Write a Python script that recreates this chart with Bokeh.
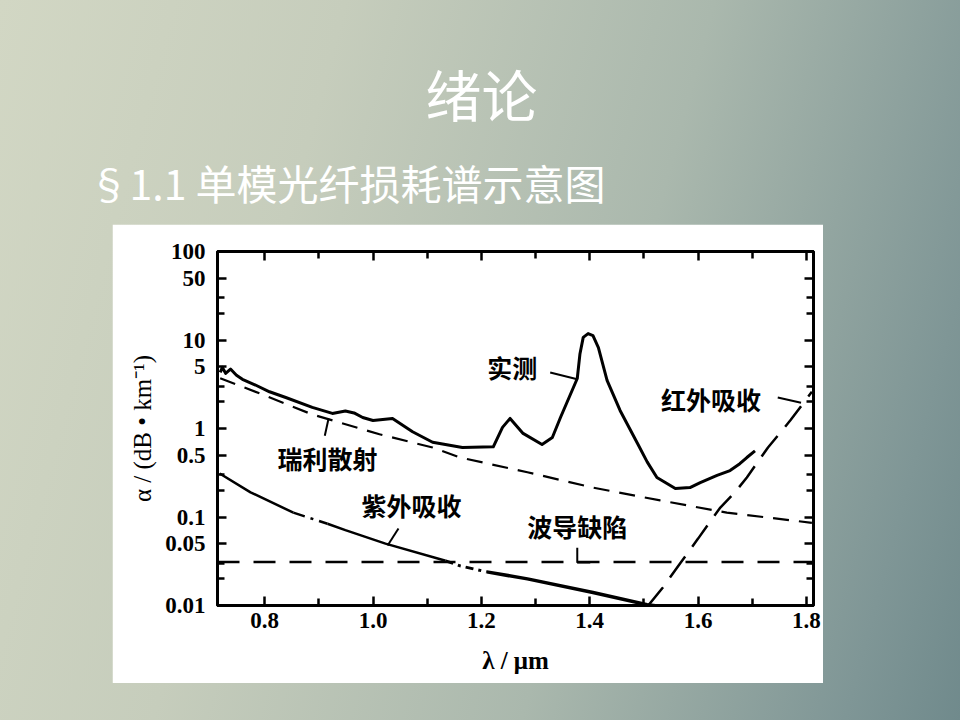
from bokeh.plotting import figure
from bokeh.models import Range1d, FixedTicker, CustomJSTickFormatter, LinearAxis, LogAxis, Spacer
from bokeh.layouts import column, row
from bokeh.core.properties import value
from bokeh.embed import file_html
from bokeh.resources import INLINE

# ---------------- data ----------------
wl_measured = [0.718, 0.722, 0.728, 0.737, 0.748, 0.759, 0.783, 0.809, 0.839, 0.888, 0.925,
               0.949, 0.965, 0.981, 1.0, 1.036, 1.073, 1.11, 1.165, 1.222, 1.239, 1.253,
               1.277, 1.312, 1.331, 1.346, 1.377, 1.382, 1.388, 1.397, 1.406, 1.416, 1.432,
               1.456, 1.488, 1.506, 1.524, 1.558, 1.585, 1.604, 1.635, 1.659, 1.677, 1.69, 1.705]
loss_measured = [4.3, 4.9, 4.2, 4.7, 4.0, 3.6, 3.1, 2.6, 2.24, 1.73, 1.48,
                 1.58, 1.5, 1.33, 1.23, 1.3, 0.92, 0.70, 0.61, 0.62, 1.03, 1.30,
                 0.88, 0.66, 0.79, 1.33, 3.67, 7.0, 10.7, 11.8, 11.2, 8.2, 3.5,
                 1.6, 0.68, 0.42, 0.28, 0.21, 0.215, 0.245, 0.295, 0.335, 0.40, 0.47, 0.56]

wl_rayleigh = [0.718, 0.796, 0.888, 1.012, 1.11, 1.161, 1.285, 1.406, 1.53, 1.653, 1.81]
loss_rayleigh = [3.7, 2.42, 1.44, 0.86, 0.61, 0.47, 0.32, 0.215, 0.154, 0.112, 0.086]

wl_waveguide = [0.713, 1.813]
loss_waveguide = [0.031, 0.031]

wl_uv = [0.717, 0.774, 0.853, 0.916, 0.949, 1.023, 1.134, 1.161, 1.21, 1.285, 1.406, 1.506, 1.56]
loss_uv = [0.31, 0.19, 0.112, 0.084, 0.071, 0.050, 0.032, 0.028, 0.024, 0.020, 0.014, 0.0102, 0.0093]

wl_ir = [1.505, 1.535, 1.567, 1.6, 1.641, 1.668, 1.69, 1.729, 1.77, 1.81]
loss_ir = [0.0095, 0.016, 0.030, 0.057, 0.128, 0.19, 0.28, 0.61, 1.23, 2.6]

x_major = [0.8, 1.0, 1.2, 1.4, 1.6, 1.8]
x_minor = [0.9, 1.1, 1.3, 1.5, 1.7]
y_major = [0.01, 0.05, 0.1, 0.5, 1, 5, 10, 50, 100]
y_minor = [0.02, 0.03, 0.2, 0.3, 2, 3, 20, 30]

labels = ["实测", "瑞利散射", "紫外吸收", "波导缺陷", "红外吸收"]
label_wl = [1.257, 0.916, 1.071, 1.377, 1.624]
label_loss = [5.0, 0.47, 0.135, 0.080, 2.18]
leader_wl = [[1.327, 1.377], [0.918, 0.911], [1.047, 1.027], [1.377, 1.377, 1.401], [1.747, 1.79]]
leader_loss = [[4.3, 3.6], [1.30, 0.83], [0.074, 0.0476], [0.045, 0.0306, 0.0306], [2.24, 1.95]]

title_text = "绪论"
subtitle_text = "§1.1 单模光纤损耗谱示意图"
x_label = "λ / μm"
y_label = "α / (dB • km⁻¹)"

# ---------------- header (slide title) ----------------
head = figure(width=960, height=224, x_range=Range1d(0, 960), y_range=Range1d(224, 0),
              toolbar_location=None, output_backend="svg", min_border=0,
              x_axis_location=None, y_axis_location=None,
              background_fill_alpha=0, border_fill_alpha=0, outline_line_color=None)
head.grid.visible = False
head.text(x=[481], y=[92], text=[title_text], text_color="white", text_align="center",
          text_baseline="middle", text_font=value("Noto Sans CJK SC"), text_font_size="56px")
head.text(x=[88], y=[181], text=[subtitle_text], text_color="white", text_align="left",
          text_baseline="middle", text_font=value("Noto Sans CJK SC"), text_font_size="41px")

# ---------------- chart ----------------
p = figure(width=711, height=459, y_axis_type="log",
           x_range=Range1d(0.713, 1.813), y_range=Range1d(0.01, 100),
           toolbar_location=None, output_backend="svg",
           min_border_left=105, min_border_right=10, min_border_top=27, min_border_bottom=78,
           background_fill_color="white", border_fill_color="white",
           outline_line_color="black", outline_line_width=3)
p.grid.visible = False

serif = "Liberation Serif"
xt = FixedTicker(ticks=x_major, minor_ticks=x_minor)
yt = FixedTicker(ticks=y_major, minor_ticks=y_minor)

def style_axis(ax, show_labels):
    ax.axis_line_color = "black"
    ax.axis_line_width = 3
    ax.major_tick_in = 9
    ax.major_tick_out = 0
    ax.minor_tick_in = 7
    ax.minor_tick_out = 0
    ax.major_tick_line_width = 2.5
    ax.minor_tick_line_width = 2.5
    ax.major_tick_line_color = "black"
    ax.minor_tick_line_color = "black"
    ax.major_label_text_font = serif
    ax.major_label_text_font_style = "bold"
    ax.major_label_text_font_size = "23px" if show_labels else "0px"
    ax.major_label_text_color = "black"

xa = p.xaxis[0]
xa.ticker = xt
xa.formatter = CustomJSTickFormatter(code="return tick.toFixed(1);")
style_axis(xa, True)
xa.major_label_standoff = 7
xa.axis_label = x_label
xa.axis_label_text_font = serif
xa.axis_label_text_font_style = "bold"
xa.axis_label_text_font_size = "25px"
xa.axis_label_text_color = "black"
xa.axis_label_standoff = 16

ya = p.yaxis[0]
ya.ticker = yt
ya.formatter = CustomJSTickFormatter(code="return String(Number(tick.toPrecision(3)));")
style_axis(ya, True)
ya.major_label_standoff = 12
ya.axis_label = y_label
ya.axis_label_text_font = serif
ya.axis_label_text_font_style = "normal"
ya.axis_label_text_font_size = "25px"
ya.axis_label_text_color = "black"
ya.axis_label_standoff = 6

top_ax = LinearAxis(ticker=xt, formatter=CustomJSTickFormatter(code="return '';"))
style_axis(top_ax, False)
top_ax.major_label_standoff = 0
p.add_layout(top_ax, "above")
right_ax = LogAxis(ticker=yt, formatter=CustomJSTickFormatter(code="return '';"))
style_axis(right_ax, False)
right_ax.major_label_standoff = 0
p.add_layout(right_ax, "right")

# curves
p.line(wl_rayleigh, loss_rayleigh, line_color="black", line_width=2.2, line_dash="16 10")
p.line(wl_waveguide, loss_waveguide, line_color="black", line_width=2.5, line_dash="22 14")
p.line(wl_ir, loss_ir, line_color="black", line_width=2.5, line_dash="26 12")

uv_segments = [(0, 3, "solid", 2.5), (2, 4, "12 6 3 6", 2.5), (3, 7, "solid", 2.5),
               (6, 9, "8 5 3 5", 3), (8, len(wl_uv), "solid", 3.5)]
for a, b, dash, w in uv_segments:
    p.line(wl_uv[a:b], loss_uv[a:b], line_color="black", line_width=w, line_dash=dash)

p.line(wl_measured, loss_measured, line_color="black", line_width=3, line_join="round")

# annotations
p.multi_line(leader_wl, leader_loss, line_color="black", line_width=2)
p.text(x=label_wl, y=label_loss, text=labels, text_color="black", text_align="center",
       text_baseline="middle", text_font=value("Noto Sans CJK SC"), text_font_style="bold",
       text_font_size="25px")

chart_row = row(Spacer(width=112, height=459), p, Spacer(width=137, height=459))
root = column(head, chart_row, Spacer(width=960, height=37), spacing=0, width=960, height=720,
              styles={"position": "absolute", "left": "0px", "top": "0px",
                      "background": "linear-gradient(105deg, #d2d7c4 0%, #c6cdbc 30%, #aab8ad 62%, #7f9696 90%, #708a8c 100%)"})

open("out.html", "w").write(file_html(root, INLINE))
